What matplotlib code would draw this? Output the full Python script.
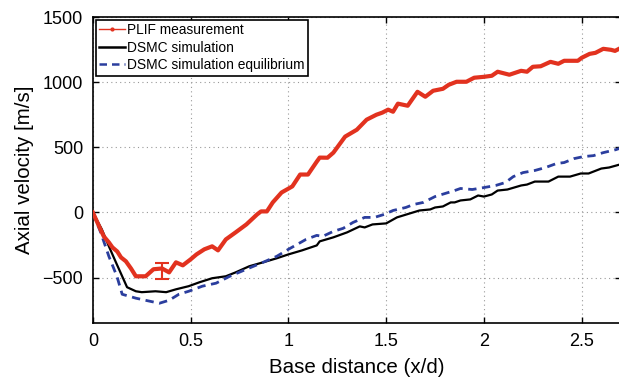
import matplotlib
matplotlib.use("Agg")
import matplotlib.pyplot as plt
from matplotlib.lines import Line2D

plt.rcParams['font.family'] = ['Liberation Sans', 'DejaVu Sans']

plif_x = [0.0, 0.03, 0.056, 0.082, 0.10, 0.125, 0.144, 0.169, 0.195, 0.22, 0.27, 0.31,
          0.354, 0.39, 0.425, 0.46, 0.50, 0.53, 0.57, 0.61, 0.64, 0.68, 0.73, 0.785,
          0.84, 0.86, 0.89, 0.92, 0.965, 1.02, 1.06, 1.10, 1.145, 1.16, 1.2, 1.23,
          1.29, 1.35, 1.40, 1.45, 1.48, 1.51, 1.535, 1.56, 1.61, 1.66, 1.70, 1.74,
          1.79, 1.82, 1.86, 1.91, 1.95, 2.0, 2.04, 2.07, 2.13, 2.19, 2.22, 2.25,
          2.29, 2.34, 2.38, 2.41, 2.48, 2.50, 2.54, 2.57, 2.61, 2.65, 2.67, 2.7]
plif_y = [0, -100, -184, -230, -268, -300, -345, -375, -430, -490, -490, -436,
          -430, -460, -383, -406, -360, -322, -283, -260, -291, -207, -153, -92,
          -15, 8, 8, 77, 153, 200, 291, 291, 390, 421, 420, 459,
          582, 635, 712, 750, 766, 789, 773, 835, 819, 926, 888, 934,
          949, 980, 1003, 1003, 1034, 1041, 1049, 1080, 1057, 1087, 1080, 1118,
          1122, 1156, 1141, 1164, 1164, 1187, 1217, 1225, 1256, 1248, 1240, 1263]

# single error bar on the measurement
err_x = [0.354]
err_y = [-450]
err_size = [62]

# DSMC simulation
dsmc_x = [0.0, 0.046, 0.082, 0.118, 0.15, 0.175, 0.22, 0.25, 0.32, 0.375, 0.425, 0.49,
          0.545, 0.61, 0.68, 0.73, 0.80, 0.87, 0.94, 1.0, 1.07, 1.145, 1.16, 1.23,
          1.30, 1.365, 1.39, 1.43, 1.50, 1.555, 1.62, 1.67, 1.725, 1.75, 1.79, 1.83,
          1.85, 1.88, 1.93, 1.97, 2.0, 2.04, 2.07, 2.12, 2.19, 2.22, 2.26, 2.33,
          2.38, 2.44, 2.495, 2.535, 2.60, 2.64, 2.7]
dsmc_y = [0, -130, -260, -383, -490, -574, -605, -612, -605, -612, -590, -566,
          -536, -505, -490, -460, -413, -383, -352, -322, -291, -253, -222, -191,
          -153, -107, -115, -92, -84, -38, -8, 15, 23, 38, 46, 77,
          77, 92, 100, 130, 122, 138, 168, 176, 207, 214, 237, 237,
          275, 275, 299, 299, 337, 345, 370]

# DSMC simulation equilibrium
eq_x = [0.0, 0.04, 0.082, 0.123, 0.15, 0.22, 0.29, 0.34, 0.39, 0.44, 0.49, 0.56,
        0.63, 0.70, 0.785, 0.87, 0.94, 1.0, 1.09, 1.145, 1.175, 1.23, 1.28, 1.33,
        1.39, 1.44, 1.49, 1.535, 1.60, 1.64, 1.69, 1.75, 1.80, 1.85, 1.88, 1.94,
        2.0, 2.06, 2.11, 2.15, 2.20, 2.26, 2.315, 2.37, 2.41, 2.46, 2.51, 2.56,
        2.61, 2.675, 2.7]
eq_y = [0, -153, -337, -490, -628, -658, -681, -697, -674, -628, -605, -566,
        -543, -490, -436, -383, -337, -283, -207, -176, -184, -145, -122, -77,
        -38, -38, -15, 15, 38, 61, 77, 122, 145, 168, 184, 176,
        191, 207, 230, 275, 306, 322, 345, 375, 383, 413, 429, 436,
        459, 482, 495]

x_ticks = [0, 0.5, 1, 1.5, 2, 2.5]
y_ticks = [-500, 0, 500, 1000, 1500]

red = '#e2321f'
blue = '#2b3e9e'

fig = plt.figure(figsize=(6.19, 3.78), dpi=100)
ax = fig.add_axes([0.150, 0.145, 0.853, 0.81])

ax.plot(plif_x, plif_y, color=red, lw=3.0, solid_joinstyle='round', zorder=3)
ax.errorbar(err_x, err_y, yerr=err_size, fmt='none', ecolor=red, elinewidth=1.5,
            capsize=5, capthick=1.5, zorder=3)
ax.plot(dsmc_x, dsmc_y, color='black', lw=1.6, zorder=2)
ax.plot(eq_x, eq_y, color=blue, lw=2.0, dashes=(3, 2), zorder=2)

ax.set_xlim(0, 2.7)
ax.set_ylim(-850, 1500)
ax.set_xticks(x_ticks)
ax.set_xticklabels(['0', '0.5', '1', '1.5', '2', '2.5'])
ax.set_yticks(y_ticks)
ax.set_yticklabels(['\u2212500', '0', '500', '1000', '1500'])
ax.grid(True, linestyle=(0, (1, 3)), color='#999999', lw=0.8)
ax.tick_params(direction='in', length=4, width=1, top=True, right=True,
               labelsize=13, pad=7)
for s in ax.spines.values():
    s.set_linewidth(1.2)

ax.set_xlabel('Base distance (x/d)', fontsize=14.8, labelpad=6)
ax.set_ylabel('Axial velocity [m/s]', fontsize=14.8, labelpad=6)

handles = [Line2D([], [], color=red, lw=1.0, marker='.', markersize=4),
           Line2D([], [], color='black', lw=1.8),
           Line2D([], [], color=blue, lw=1.8, dashes=(3, 2))]
labels = ['PLIF measurement', 'DSMC simulation', 'DSMC simulation equilibrium']
leg = ax.legend(handles, labels, loc='upper left', fontsize=9.9, fancybox=False,
                framealpha=1, edgecolor='black', borderaxespad=0.2,
                borderpad=0.25, handlelength=1.9, handletextpad=0.15,
                labelspacing=0.25)
leg.get_frame().set_linewidth(1.2)

fig.savefig('out.png', dpi=100)
